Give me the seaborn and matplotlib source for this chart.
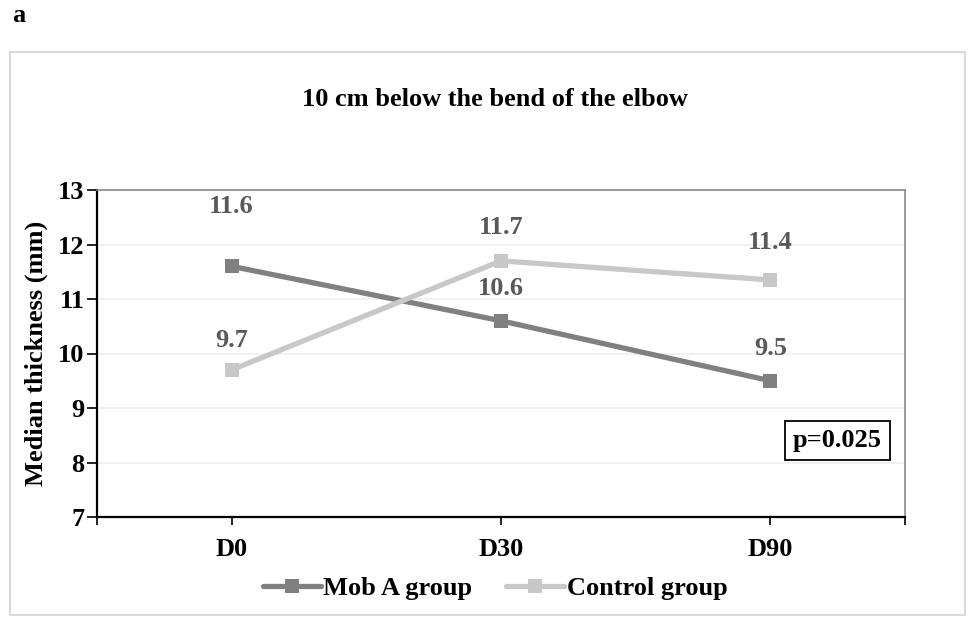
import matplotlib
matplotlib.use("Agg")
import matplotlib.pyplot as plt
import seaborn as sns
import pandas as pd
from matplotlib.patches import Rectangle
from matplotlib.lines import Line2D

categories = ["D0", "D30", "D90"]
mob_a = [11.6, 10.6, 9.5]
control = [9.7, 11.7, 11.35]
mob_labels = ["11.6", "10.6", "9.5"]
control_labels = ["9.7", "11.7", "11.4"]
series_names = ["Mob A group", "Control group"]
colors = {"Mob A group": "#808080", "Control group": "#c8c8c8"}

df = pd.DataFrame({
    "day": categories * 2,
    "x": list(range(len(categories))) * 2,
    "value": mob_a + control,
    "group": [series_names[0]] * 3 + [series_names[1]] * 3,
})

sns.set_theme(style="white")
plt.rcParams["font.family"] = ["Liberation Serif", "DejaVu Serif"]
plt.rcParams["font.weight"] = "bold"
plt.rcParams["text.color"] = "black"
plt.rcParams["axes.labelcolor"] = "black"
plt.rcParams["xtick.color"] = "black"
plt.rcParams["ytick.color"] = "black"

FS = 19

fig = plt.figure(figsize=(9.68, 6.25), dpi=100)
ax = fig.add_axes([97/968, 1-517/625, (905-97)/968, (517-190)/625])

sns.lineplot(data=df, x="x", y="value", hue="group", palette=colors,
             hue_order=series_names, ax=ax, linewidth=3.8, marker="s",
             markersize=10, markeredgewidth=0, legend=False, zorder=3)

ax.set_xlim(-0.5, 2.5)
ax.set_ylim(7, 13)
ax.set_yticks(range(7, 14))
ax.set_xticks(range(len(categories)))
ax.set_xticklabels(categories)
ax.set_xticks([-0.5, 2.5], minor=True)
ax.tick_params(axis="x", which="both", direction="out", length=6, width=1.2,
               color="black", labelcolor="black", bottom=True, labelsize=FS, pad=9)
ax.tick_params(axis="y", direction="out", length=7, width=1.2, color="black",
               labelcolor="black", left=True, labelsize=FS, pad=2)
for lab in ax.get_xticklabels() + ax.get_yticklabels():
    lab.set_fontweight("bold")
ax.set_xlabel("")
ax.set_ylabel("Median thickness (mm)", fontsize=FS, fontweight="bold", labelpad=7,
              color="black")
ax.grid(axis="y", color="#efefef", linewidth=1.2)
ax.set_axisbelow(True)
for side in ["left", "bottom"]:
    ax.spines[side].set_color("black")
    ax.spines[side].set_linewidth(1.6)
for side in ["top", "right"]:
    ax.spines[side].set_color("#8a8a8a")
    ax.spines[side].set_linewidth(1.2)

offsets_mob = [43, 23, 23]
offsets_ctl = [21, 24, 27]
for i, (v, t) in enumerate(zip(mob_a, mob_labels)):
    ax.annotate(t, (i, v), xytext=(0, offsets_mob[i]), textcoords="offset points",
                ha="center", va="center", fontsize=FS, fontweight="bold", color="#595959")
for i, (v, t) in enumerate(zip(control, control_labels)):
    ax.annotate(t, (i, v), xytext=(0, offsets_ctl[i]), textcoords="offset points",
                ha="center", va="center", fontsize=FS, fontweight="bold", color="#595959")

ax.text(2.25, 8.41, "p=0.025", ha="center", va="center", fontsize=FS, fontweight="bold",
        color="black", zorder=5,
        bbox=dict(boxstyle="square,pad=0.3", facecolor="white", edgecolor="black", linewidth=1.3))

# outer chart border
fig.patches.append(Rectangle((10/968, 1-615/625), (965-10)/968, (615-52)/625,
                             transform=fig.transFigure, fill=False,
                             edgecolor="#d9d9d9", linewidth=1.5))

fig.text(12/968, 1-16/625, "a", fontsize=FS, fontweight="bold", ha="left", va="center",
         color="black")
fig.text(495/968, 1-100/625, "10 cm below the bend of the elbow", fontsize=FS,
         fontweight="bold", ha="center", va="center", color="black")

handles = [Line2D([], [], color=colors[n], linewidth=3.8, marker="s", markersize=10,
                  markeredgewidth=0) for n in series_names]
leg = fig.legend(handles, series_names, loc="center", bbox_to_anchor=(495/968, 1-588/625),
                 ncol=2, frameon=False, handlelength=2.2, handletextpad=0.08,
                 columnspacing=1.3, prop={"weight": "bold", "size": FS})
for t in leg.get_texts():
    t.set_color("black")

fig.savefig("out.png", dpi=100)
